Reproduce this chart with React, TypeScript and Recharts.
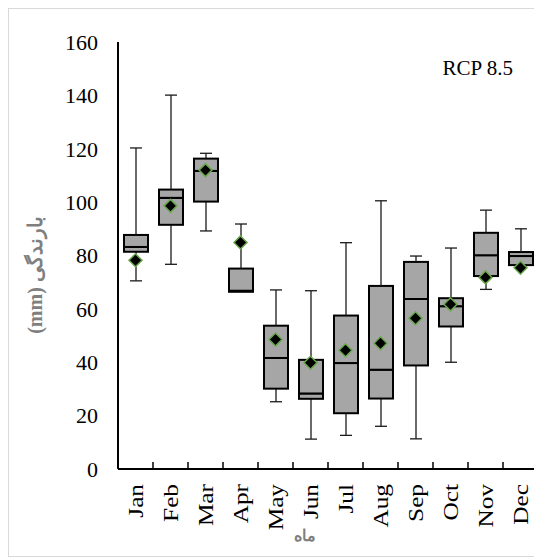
import { ComposedChart, Bar, Scatter, XAxis, YAxis } from "recharts";

const months = ["Jan", "Feb", "Mar", "Apr", "May", "Jun", "Jul", "Aug", "Sep", "Oct", "Nov", "Dec"];
const mins = [70.5, 76.7, 89.2, 66.3, 25.2, 11.2, 12.6, 16.0, 11.3, 40.0, 67.3, 75.8];
const q1s = [81.4, 91.5, 100.2, 66.4, 30.1, 26.3, 20.9, 26.4, 38.8, 53.4, 72.3, 76.4];
const medians = [83.2, 101.6, 111.7, 66.8, 41.6, 28.3, 39.7, 37.2, 63.7, 61.0, 80.1, 79.8];
const q3s = [87.7, 104.7, 116.3, 75.1, 53.7, 40.9, 57.5, 68.6, 77.6, 64.0, 88.5, 81.3];
const maxs = [120.3, 140.1, 118.3, 91.8, 67.1, 66.8, 84.8, 100.5, 79.8, 82.8, 97.0, 90.0];
const means = [78.2, 98.6, 112.0, 84.9, 48.5, 39.8, 44.5, 47.1, 56.5, 61.7, 71.8, 75.4];
const yTicks = [0, 20, 40, 60, 80, 100, 120, 140, 160];

const data = months.map((m, i) => ({
  month: m,
  base: mins[i],
  lowWhisker: q1s[i] - mins[i],
  boxLow: medians[i] - q1s[i],
  boxHigh: q3s[i] - medians[i],
  highWhisker: maxs[i] - q3s[i],
  mean: means[i],
}));

const W = 534;
const H = 549;
const MARGIN = { top: 34, right: 4, bottom: 28, left: 0 };
const Y_AXIS_W = 110;
const BAND = (W - MARGIN.left - MARGIN.right - Y_AXIS_W) / months.length;
const SERIF = "'Liberation Serif', 'Times New Roman', serif";
const CAP = 6;

const Empty = () => null;

const BoxPart = (props: any) => {
  const { x, y, width, height } = props;
  if (!height || height < 0) return null;
  return <rect x={x} y={y} width={width} height={height} fill="#a6a6a6" stroke="#000" strokeWidth={2} />;
};

const LowWhisker = (props: any) => {
  const { x, y, width, height } = props;
  const cx = x + width / 2;
  if (!height || height < 0.5) return null;
  return (
    <g stroke="#1a1a1a" strokeWidth={1.3}>
      <line x1={cx} x2={cx} y1={y} y2={y + height} />
      <line x1={cx - CAP} x2={cx + CAP} y1={y + height} y2={y + height} />
    </g>
  );
};

const HighWhisker = (props: any) => {
  const { x, y, width, height } = props;
  const cx = x + width / 2;
  if (!height || height < 0.5) return null;
  return (
    <g stroke="#1a1a1a" strokeWidth={1.3}>
      <line x1={cx} x2={cx} y1={y + height} y2={y} />
      <line x1={cx - CAP} x2={cx + CAP} y1={y} y2={y} />
    </g>
  );
};

const Diamond = (props: any) => {
  const { cx, cy } = props;
  const r = 6.5;
  return (
    <polygon
      points={`${cx},${cy - r} ${cx + r},${cy} ${cx},${cy + r} ${cx - r},${cy}`}
      fill="#000"
      stroke="#6aa84f"
      strokeWidth={1.5}
    />
  );
};

const MonthTick = (props: any) => {
  const { x, y, payload } = props;
  const ly = y + 15;
  return (
    <g>
      <line x1={x + BAND / 2} x2={x + BAND / 2} y1={y} y2={y - 7} stroke="#000" strokeWidth={1.5} />
      <text
        x={0}
        y={0}
        dy="0.35em"
        transform={`translate(${x}, ${ly}) rotate(-90) scale(1.15, 1)`}
        textAnchor="end"
        fontFamily={SERIF}
        fontSize={22}
        fill="#000"
      >
        {payload.value}
      </text>
    </g>
  );
};

export default function App() {
  return (
    <div style={{ position: "relative", width: W, height: H }}>
      <ComposedChart width={W} height={H} data={data} margin={MARGIN}>
        <XAxis
          dataKey="month"
          height={60}
          tickLine={false}
          tickSize={0}
          tickMargin={0}
          tick={<MonthTick />}
          axisLine={{ stroke: "#000", strokeWidth: 2 }}
          interval={0}
        />
        <XAxis
          xAxisId="top"
          dataKey="month"
          orientation="top"
          height={0}
          tick={false}
          tickLine={false}
          axisLine={{ stroke: "#000", strokeWidth: 2 }}
        />
        <YAxis
          width={Y_AXIS_W}
          domain={[0, 160]}
          ticks={yTicks}
          type="number"
          tickLine={false}
          tickSize={0}
          tickMargin={20}
          axisLine={{ stroke: "#000", strokeWidth: 2 }}
          tick={{ fontFamily: SERIF, fontSize: 22, fill: "#000" }}
        />
        <YAxis
          yAxisId="right"
          orientation="right"
          width={0}
          domain={[0, 160]}
          tick={false}
          tickLine={false}
          axisLine={{ stroke: "#000", strokeWidth: 2 }}
        />
        <Bar dataKey="base" stackId="b" barSize={24} shape={<Empty />} isAnimationActive={false} />
        <Bar dataKey="lowWhisker" stackId="b" barSize={24} shape={<LowWhisker />} isAnimationActive={false} />
        <Bar dataKey="boxLow" stackId="b" barSize={24} shape={<BoxPart />} isAnimationActive={false} />
        <Bar dataKey="boxHigh" stackId="b" barSize={24} shape={<BoxPart />} isAnimationActive={false} />
        <Bar dataKey="highWhisker" stackId="b" barSize={24} shape={<HighWhisker />} isAnimationActive={false} />
        <Scatter dataKey="mean" shape={<Diamond />} isAnimationActive={false} />
      </ComposedChart>
      <svg
        width={W}
        height={H}
        style={{ position: "absolute", left: 0, top: 0, pointerEvents: "none" }}
      >
        <text x={505} y={67} textAnchor="end" fontFamily={SERIF} fontSize={21} fill="#000">
          RCP 8.5
        </text>
        <text
          x={27}
          y={267}
          dy="0.35em"
          transform="rotate(-90, 27, 267)"
          textAnchor="middle"
          direction="rtl"
          fontFamily={SERIF}
          fontWeight="bold"
          fontSize={20}
          fill="#7f7f7f"
        >
          بارندگی (mm)
        </text>
        <text
          x={297}
          y={533}
          textAnchor="middle"
          fontFamily={SERIF}
          fontWeight="bold"
          fontSize={16}
          fill="#7f7f7f"
        >
          ماه
        </text>
      </svg>
      <div
        style={{
          position: "absolute",
          left: 0,
          top: 0,
          width: W - 2,
          height: H - 2,
          border: "1px solid #d9d9d9",
          pointerEvents: "none",
        }}
      />
    </div>
  );
}
